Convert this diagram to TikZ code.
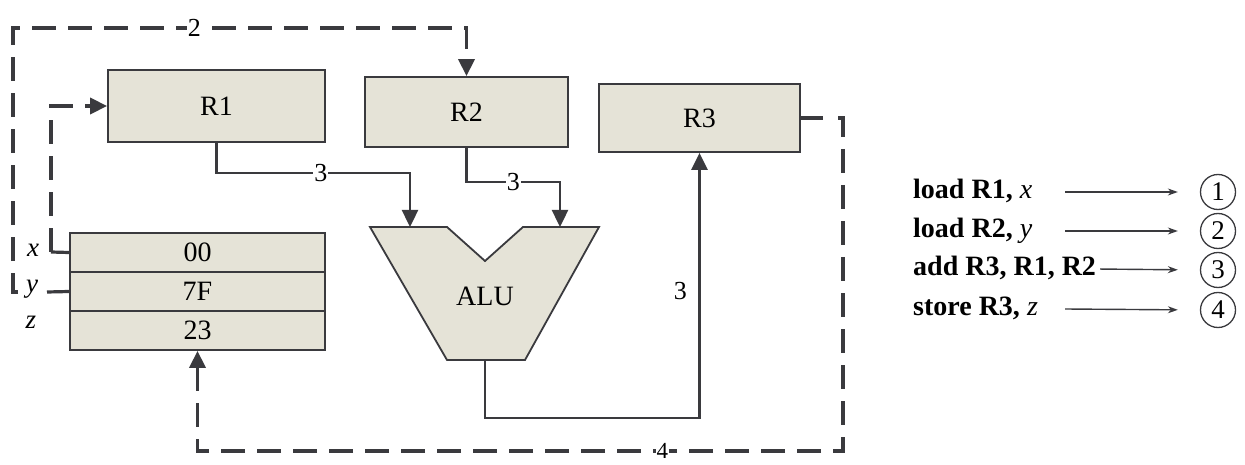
\documentclass[tikz,border=0pt]{standalone}
\usepackage{fontspec}
\setmainfont{Liberation Serif}
\usetikzlibrary{arrows.meta}
\definecolor{boxfill}{RGB}{229,227,215}
\definecolor{wire}{RGB}{58,58,62}

\begin{document}
\begin{tikzpicture}[x=1pt,y=-1pt,>={Triangle[length=17pt,width=16pt]},line join=miter,
  reg/.style={draw=wire,line width=1.8pt,fill=boxfill,inner sep=0pt,font=\fontsize{28}{30}\selectfont},
  cell/.style={reg,minimum width=255pt,minimum height=39pt},
  conn/.style={draw=wire,line width=2.4pt},
  loop/.style={draw=wire,line width=3.6pt,dash pattern=on 24pt off 12pt},
  lab/.style={fill=white,inner sep=1pt,font=\fontsize{26}{28}\selectfont},
  instr/.style={anchor=west,inner sep=0pt,text height=18pt,text depth=5pt,font=\bfseries\fontsize{28}{30}\selectfont},
  num/.style={circle,draw=wire,line width=1.3pt,minimum size=35pt,inner sep=0pt,font=\fontsize{27}{29}\selectfont},
  small/.style={draw=wire,line width=1.4pt,-{Stealth[length=10pt,width=7pt]}}]
\useasboundingbox (0,0) rectangle (1245,465);
% registers
\node[reg,minimum width=217pt,minimum height=72pt] (r1) at (216.5,106) {R1};
\node[reg,minimum width=203pt,minimum height=70pt] (r2) at (466.5,112) {R2};
\node[reg,minimum width=201pt,minimum height=68pt] (r3) at (699.5,118) {R3};
% memory
\node[cell] (m0) at (197.5,252.5) {00};
\node[cell] (m1) at (197.5,291.5) {7F};
\node[cell] (m2) at (197.5,330.5) {23};
\node[font=\itshape\fontsize{27}{29}\selectfont] (lx) at (33,250) {x};
\node[font=\itshape\fontsize{27}{29}\selectfont] (ly) at (32,289) {y};
\node[font=\itshape\fontsize{27}{29}\selectfont] (lz) at (31,322) {z};
\coordinate (xtap) at (51,252);
\coordinate (ytap) at (18,292);
\coordinate (ystub) at (47,292);
\coordinate (r3stub) at (823,118);
\coordinate (r3tap) at (838,118);
% ALU
\draw[reg] (370,227) -- (447,227) -- (485,261) -- (523,227) -- (599,227) -- (525,360) -- (447,360) -- cycle;
\node[font=\fontsize{28}{30}\selectfont] (alu) at (485,296) {ALU};
\coordinate (alu-a) at (410,227);
\coordinate (alu-b) at (560,227);
\coordinate (alu-out) at (485,360);
% data paths
\draw[conn,->] (r1.south) -- ++(0,30) -| node[lab,pos=0.27]{3} (alu-a);
\draw[conn,->] (r2.south) -- ++(0,34) -| node[lab,pos=0.25]{3} (alu-b);
\draw[conn,->] (alu-out) -- ++(0,58) -| node[pos=0.74,left=8pt,font=\fontsize{26}{28}\selectfont]{3} (r3.south);
% memory transfers
\draw[conn,line width=3.2pt] (xtap) -- (m0.west);
\draw[conn,line width=3.2pt] (ystub) -- (m1.west);
\draw[conn,line width=3.2pt] (r3.east) -- (r3stub);
\draw[loop,->] (xtap) |- (r1.west);
\draw[loop,->] (ytap) -- (13,292) -- (13,28) -| node[lab,pos=0.2]{2} (r2.north);
\draw[loop,->] (r3tap) -- (843,118) -- (843,451) -| node[lab,pos=0.14,inner sep=1pt,font=\fontsize{23}{24}\selectfont]{4} (m2.south);
% program
\node[instr] (i1) at (913,192) {load R1, {\mdseries\itshape x}};
\node[instr] (i2) at (913,231) {load R2, {\mdseries\itshape y}};
\node[instr] (i3) at (913,269) {add R3, R1, R2};
\node[instr] (i4) at (913,309) {store R3, {\mdseries\itshape z}};
\node[num] (c1) at (1218,192) {1};
\node[num] (c2) at (1218,231) {2};
\node[num] (c3) at (1218,270) {3};
\node[num] (c4) at (1218,310) {4};
\coordinate (a1) at (1065,192);
\coordinate (a2) at (1065,231);
\coordinate (a4) at (1065,309);
\draw[small,shorten >=22pt] (a1) -- (c1.west);
\draw[small,shorten >=22pt] (a2) -- (c2.west);
\draw[small,shorten >=22pt,shorten <=4pt] (i3.east) -- (c3.west);
\draw[small,shorten >=22pt] (a4) -- (c4.west);
\end{tikzpicture}
\end{document}
